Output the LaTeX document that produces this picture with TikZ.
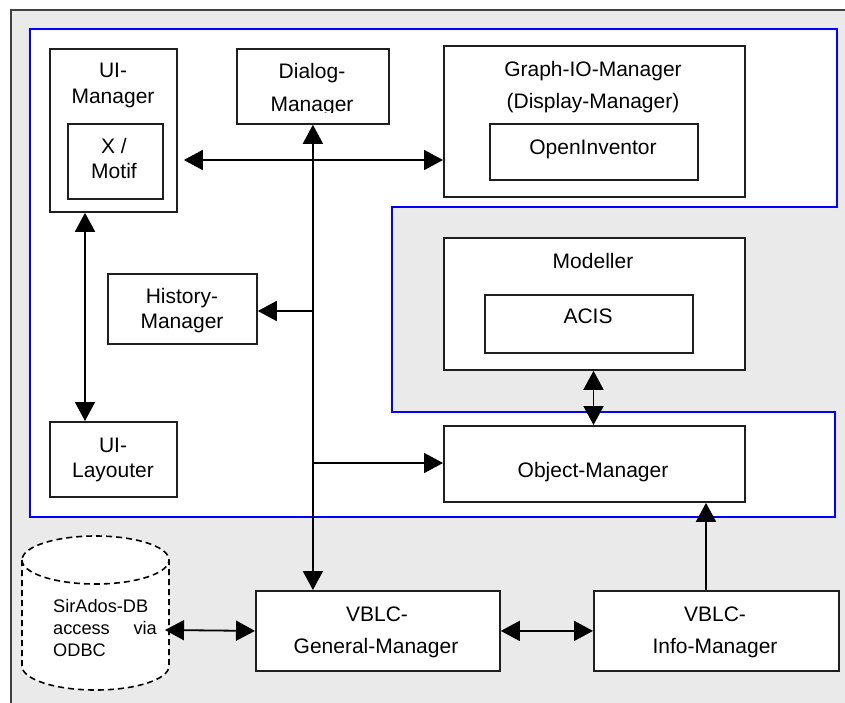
\documentclass[tikz,border=0pt]{standalone}
\usepackage{fontspec}
\setmainfont{Liberation Sans}
\usetikzlibrary{arrows.meta}
\definecolor{bgray}{RGB}{234,234,234}
\definecolor{frameblue}{RGB}{0,0,255}
\tikzset{
  box/.style={draw=black!88, line width=1.8pt, fill=white, inner sep=0pt, anchor=north west},
  txt/.style={anchor=base, inner sep=0pt, font=\fontsize{21}{25}\selectfont},
  smalltxt/.style={anchor=base west, inner sep=0pt, font=\fontsize{18.2}{22}\selectfont},
  tip/.tip={Triangle[length=19pt,width=20pt]},
  conn/.style={line width=1.8pt, -tip},
  conn2/.style={line width=1.8pt, tip-tip},
  dbline/.style={line width=1.6pt, dash pattern=on 6pt off 4pt},
}
\begin{document}
\begin{tikzpicture}[x=1pt,y=-1pt]
\useasboundingbox (0,0) rectangle (845,702);
% background frame
\fill[white] (0,0) rectangle (845,702);
\fill[bgray] (11,10) rectangle (850,710);
\draw[line width=2pt, black!75] (11,710) -- (11,10) -- (850,10);
% blue region
\draw[frameblue, line width=1.5pt, fill=white] (30,29) -- (837,29) -- (837,207) -- (392,207) -- (392,412) -- (835,412) -- (835,517) -- (30,517) -- cycle;

% boxes
\node[box, minimum width=127pt, minimum height=163pt] (uim) at (49,48) {};
\node[box, minimum width=95pt, minimum height=75pt] (xm) at (67,123) {};
\node[box, minimum width=152pt, minimum height=75pt] (dl) at (236,48) {};
\node[box, minimum width=301pt, minimum height=151pt] (gio) at (443,45) {};
\node[box, minimum width=208pt, minimum height=56pt] (oi) at (489,123) {};
\node[box, minimum width=301pt, minimum height=132pt] (mod) at (443,237) {};
\node[box, minimum width=208pt, minimum height=58pt] (acis) at (484,294) {};
\node[box, minimum width=149pt, minimum height=70pt] (hm) at (107,273) {};
\node[box, minimum width=127pt, minimum height=75pt] (uil) at (49,421) {};
\node[box, minimum width=301pt, minimum height=76pt] (om) at (443,425) {};
\node[box, minimum width=244pt, minimum height=80pt] (gm) at (255,590) {};
\node[box, minimum width=245pt, minimum height=80pt] (im) at (593,590) {};

% database cylinder
\draw[dbline, fill=white] (22,560) -- (22,666)
  .. controls (22,679.25) and (54.9,690) .. (95.5,690)
  .. controls (136.1,690) and (169,679.25) .. (169,666) -- (169,560)
  .. controls (169,546.75) and (136.1,536) .. (95.5,536)
  .. controls (54.9,536) and (22,546.75) .. (22,560) -- cycle;
\draw[dbline] (22,560) .. controls (22,573.25) and (54.9,584) .. (95.5,584)
  .. controls (136.1,584) and (169,573.25) .. (169,560);
\coordinate (db) at (165,630);

% texts
\node[txt] (t1) at (113,77) {UI-};
\node[txt] (t2) at (113,103) {Manager};
\node[txt] (t3) at (114,153) {X /};
\node[txt] (t4) at (114,178) {Motif};
\node[txt] (t5) at (312,78) {Dialog-};
\begin{scope}
  \clip (236,80) rectangle (388,112.5);
  \node[txt] (t6) at (312,111) {Manager};
\end{scope}
\node[txt] (t7) at (593,76) {Graph-IO-Manager};
\node[txt] (t8) at (593,108) {(Display-Manager)};
\node[txt] (t9) at (593,154) {OpenInventor};
\node[txt] (t10) at (593,268) {Modeller};
\node[txt] (t11) at (588,323) {ACIS};
\node[txt] (t12) at (182,303) {History-};
\node[txt] (t13) at (182,328) {Manager};
\node[txt] (t14) at (113,452) {UI-};
\node[txt] (t15) at (113,477) {Layouter};
\node[txt] (t16) at (593,477) {Object-Manager};
\node[txt] (t17) at (377,621) {VBLC-};
\node[txt] (t18) at (376,653) {General-Manager};
\node[txt] (t19) at (715,621) {VBLC-};
\node[txt] (t20) at (715,653) {Info-Manager};
\node[smalltxt] (t21) at (53,612) {SirAdos-DB};
\node[smalltxt] (t22) at (53,634) {access};
\node[smalltxt, anchor=base east] (t23) at (157,634) {via};
\node[smalltxt] (t24) at (53,656) {ODBC};

% connectors
\coordinate (hy) at (0,160);
\coordinate (jh) at (312,311);
\coordinate (jo) at (312,463);
\coordinate (ux) at (85,0);
\coordinate (mx) at (593.5,0);
\coordinate (ix) at (706,0);
\draw[conn2, shorten <=6pt] (uim.east |- hy) -- (gio.west |- hy);
\draw[conn2] (dl.south) -- (dl.south |- gm.north);
\draw[conn] (jh) -- (jh -| hm.east);
\draw[conn] (jo) -- (jo -| om.west);
\draw[conn2] (ux |- uim.south) -- (ux |- uil.north);
\draw[conn2] (mx |- mod.south) -- (mx |- om.north);
\draw[conn] (ix |- im.north) -- (ix |- om.south);
\draw[conn2] (db) -- (gm.west);
\draw[conn2] (gm.east) -- (im.west);
\end{tikzpicture}
\end{document}
